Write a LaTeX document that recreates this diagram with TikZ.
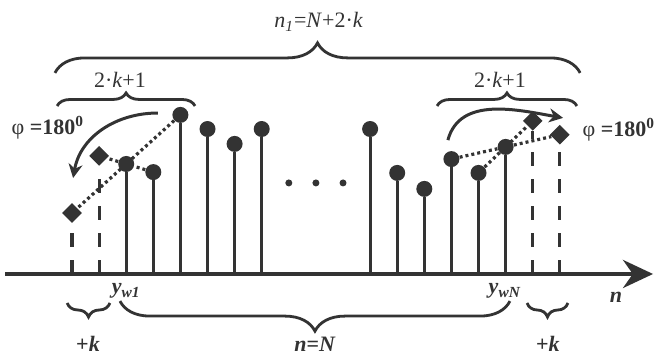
\documentclass[tikz,border=0pt]{standalone}
\usepackage{fontspec}
\setmainfont{Liberation Serif}
\usetikzlibrary{arrows.meta,decorations.pathreplacing,shapes.geometric}
\colorlet{ink}{black!80}

\begin{document}
\begin{tikzpicture}[x=13.55pt,y=13.55pt,color=ink,
  stem/.style={line width=1.6pt},
  dashstem/.style={line width=1.6pt,dash pattern=on 7pt off 6.5pt},
  dot/.style={circle,fill,inner sep=0pt,minimum size=8pt},
  mirr/.style={diamond,fill,inner sep=0pt,minimum size=10pt},
  dotline/.style={line width=1.6pt,dash pattern=on 1.5pt off 1.5pt},
  brc/.style={line width=1.4pt,decorate,decoration={brace,amplitude=#1}},
  turn/.style={line width=1.5pt,-{Stealth[length=7pt,width=7pt]}},
  lab/.style={font=\fontsize{11}{13}\selectfont}]
 \useasboundingbox (-2.657,-2.989) rectangle (21.66,10.11);
 \draw[line width=2pt,-{Stealth[length=15pt,width=14pt]}] (-2.47,0)--(21.44,0);
 \node[lab] (n) at (20.07,-0.85) {\textbf{\textit{n}}};
 \foreach \i/\h in {2/4.06,3/3.76,4/5.87,5/5.35,6/4.80,7/5.35,
                    11/5.35,12/3.73,13/3.14,14/4.24,15/3.73,16/4.69} {
   \node[dot] (s\i) at (\i,\h) {};
   \draw[stem] (\i,0)--(s\i);
 }
 \foreach \i/\h in {0/2.25,1/4.36,17/5.65,18/5.14} {
   \node[mirr] (s\i) at (\i,\h) {};
   \draw[dashstem] (\i,0)--(s\i);
 }
 \foreach \i in {8,9,10} \fill (\i,3.36) circle (1.75pt);
 \draw[dotline] (s4)--(s0);
 \draw[dotline] (s3)--(s2)--(s1);
 \draw[dotline] (s14)--(s16)--(s18);
 \draw[dotline] (s15)--(s17);
 \coordinate (aL1) at (3.17,5.94);
 \coordinate (aL2) at (0.04,3.54);
 \coordinate (aR1) at (13.87,4.94);
 \coordinate (aR2) at (18.12,5.76);
 \draw[turn] (aL1) to[out=180,in=80] (aL2);
 \draw[turn] (aR1) to[out=75,in=170] (aR2);
 \node[lab] (phiL) at (-0.89,5.39) {φ \textbf{=180\textsuperscript{0}}};
 \node[lab] (phiR) at (20.18,5.31) {φ \textbf{=180\textsuperscript{0}}};
 \draw[brc=15pt] (-0.63,7.42)--(18.75,7.42);
 \draw[brc=6.5pt] (-0.55,6.2)--(4.54,6.2);
 \draw[brc=6.5pt] (13.47,6.2)--(18.63,6.2);
 \node[lab] (n1) at (9.1,9.3) {\textit{n}\textsubscript{\textit{1}}=\textit{N}+2·\textit{k}};
 \node[lab] (wl) at (1.77,7.16) {2·\textit{k}+1};
 \node[lab] (wr) at (15.79,7.16) {2·\textit{k}+1};
 \node[lab] (yw1) at (2.0,-0.63) {\textbf{\textit{y}\textsubscript{\textit{w1}}}};
 \node[lab] (ywN) at (15.98,-0.63) {\textbf{\textit{y}\textsubscript{\textit{wN}}}};
 \draw[brc=7pt] (1.40,-1.07)--(-0.18,-1.07);
 \draw[brc=15pt] (16.16,-1.0)--(1.77,-1.0);
 \draw[brc=7pt] (18.30,-1.07)--(16.79,-1.07);
 \node[lab] (kl) at (0.59,-2.58) {\textbf{+\textit{k}}};
 \node[lab] (nN) at (8.97,-2.58) {\textbf{\textit{n}=\textit{N}}};
 \node[lab] (kr) at (17.56,-2.58) {\textbf{+\textit{k}}};
\end{tikzpicture}
\end{document}
